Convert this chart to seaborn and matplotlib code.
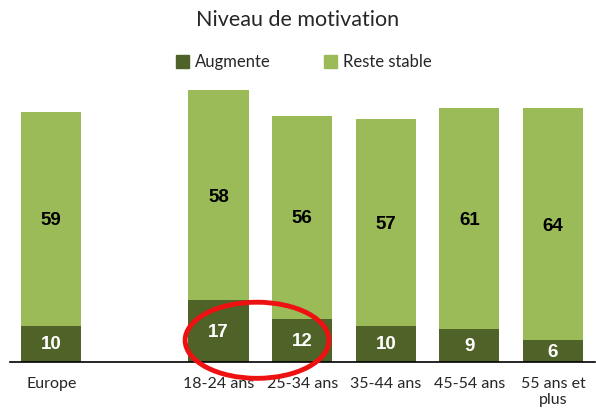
import matplotlib
matplotlib.use("Agg")
import matplotlib.pyplot as plt
from matplotlib.patches import Ellipse, Patch
import pandas as pd
import seaborn as sns

categories = ["Europe", "18-24 ans", "25-34 ans", "35-44 ans", "45-54 ans", "55 ans et\nplus"]
augmente = [10, 17, 12, 10, 9, 6]
reste_stable = [59, 58, 56, 57, 61, 64]
order = ["Europe", " ", "18-24 ans", "25-34 ans", "35-44 ans", "45-54 ans", "55 ans et\nplus"]

dark = "#4f6228"
light = "#9bbb59"

df = pd.DataFrame({"cat": categories, "augmente": augmente, "reste": reste_stable})
df["total"] = df["augmente"] + df["reste"]

sns.set_style("white")
plt.rcParams["font.family"] = ["Lato", "DejaVu Sans"]

fig = plt.figure(figsize=(5.96, 4.19), dpi=100)
ax = fig.add_axes([0.016, 0.136, 0.982, 0.692])

sns.barplot(data=df, x="cat", y="total", order=order, color=light, width=0.72,
            saturation=1, ax=ax, edgecolor="none")
sns.barplot(data=df, x="cat", y="augmente", order=order, color=dark, width=0.72,
            saturation=1, ax=ax, edgecolor="none")

# value labels
for i, row in df.iterrows():
    pos = order.index(row["cat"])
    ax.text(pos, row["augmente"] / 2 - 0.3, str(row["augmente"]), ha="center", va="center",
            color="white", fontsize=13.5, fontweight="bold", family="Liberation Sans")
    ax.text(pos, row["augmente"] + row["reste"] / 2 - 0.5, str(row["reste"]), ha="center",
            va="center", color="black", fontsize=13.5, fontweight="bold", family="Liberation Sans")

ax.set_ylim(0, 80)
ax.set_xlim(-0.5, 6.5)
ax.set_xlabel("")
ax.set_ylabel("")
ax.set_yticks([])
ax.tick_params(axis="x", length=0, labelsize=11.5, pad=11)
for s in ["top", "right", "left"]:
    ax.spines[s].set_visible(False)
ax.spines["bottom"].set_color("black")
ax.spines["bottom"].set_linewidth(1.2)

# highlight
ax.add_patch(Ellipse((2.46, 6.0), 1.72, 21, fill=False, edgecolor="#ee1111",
                     linewidth=3.5, clip_on=False, zorder=5))

handles = [Patch(color=dark, label="Augmente"), Patch(color=light, label="Reste stable")]
fig.legend(handles=handles, loc="center", bbox_to_anchor=(0.51, 0.852), ncol=2,
           frameon=False, fontsize=12, handlelength=0.8, handleheight=0.8,
           columnspacing=3.2, handletextpad=0.35)

fig.suptitle("Niveau de motivation", x=0.5, y=0.975, fontsize=15.5)

fig.savefig("out.png", dpi=100)
